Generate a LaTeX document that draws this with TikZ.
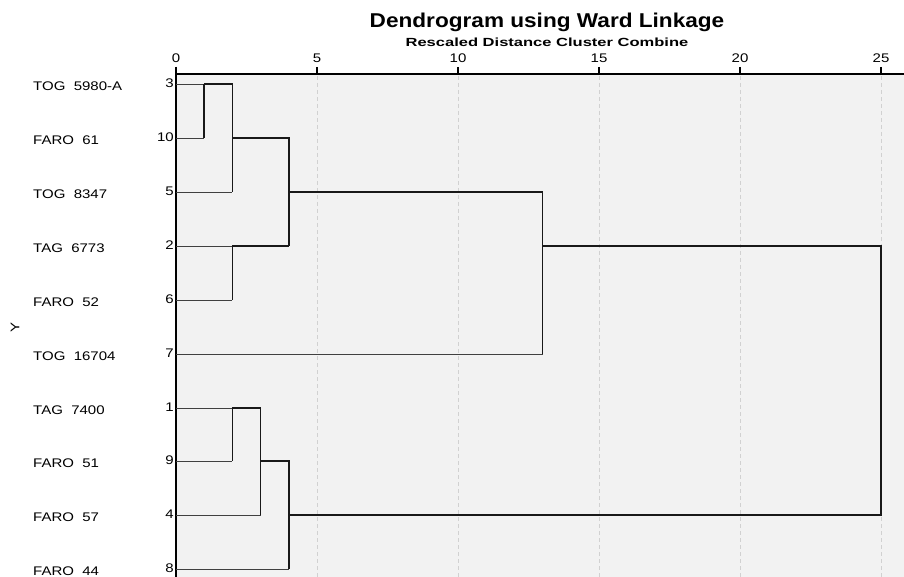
\documentclass[tikz,border=0pt]{standalone}
\usepackage{fontspec}
\usepackage{graphicx}
\setmainfont{Liberation Sans}
\newcommand\wdx[2]{\scalebox{#1}[1]{#2}}
\begin{document}
\begin{tikzpicture}[x=1pt,y=-1pt,
  thinl/.style={draw=black!75,line width=0.9pt},
  thickl/.style={draw=black!90,line width=1.5pt},
  axisl/.style={draw=black,line width=1.4pt},
  grid/.style={draw=black!18,line width=0.6pt,dash pattern=on 4pt off 3pt},
  leaf/.style={anchor=west,font=\fontsize{12.5}{14}\selectfont,inner sep=0pt},
  num/.style={anchor=east,font=\fontsize{12.5}{14}\selectfont,inner sep=0pt},
  tick/.style={anchor=south,font=\fontsize{12.5}{14}\selectfont,inner sep=0pt}]
\useasboundingbox (0,0) rectangle (904,577);
\fill[white] (0,0) rectangle (904,577);
\fill[black!5] (176,74) rectangle (904,577);
% grid
\foreach \d in {5,10,15,20,25}{
  \draw[grid] ({176+28.2*\d},76) -- ({176+28.2*\d},577);
}
% title
\node[font=\bfseries\fontsize{20}{22}\selectfont,inner sep=0pt] (title) at (547,22) {\wdx{1.13}{Dendrogram using Ward Linkage}};
\node[font=\bfseries\fontsize{11.8}{13}\selectfont,inner sep=0pt] (subtitle) at (547,42.5) {\wdx{1.4}{Rescaled Distance Cluster Combine}};
% axis
\draw[axisl] (176,74) -- (904,74);
\draw[axisl] (176,67) -- (176,577);
\foreach \d in {0,5,10,15,20,25}{
  \draw[axisl] ({176+28.2*\d},67) -- ({176+28.2*\d},74);
  \node[tick] (t\d) at ({176+28.2*\d},63) {\wdx{1.2}{\d}};
}
\node[rotate=90,font=\fontsize{12.5}{14}\selectfont,inner sep=0pt] (ylab) at (15,327) {\wdx{1.2}{Y}};
% leaves
\foreach \nm/\lab/\n/\y in {a/TOG\ \ 5980-A/3/84, b/FARO\ \ 61/10/138, c/TOG\ \ 8347/5/192, d/TAG\ \ 6773/2/246, e/FARO\ \ 52/6/300, f/TOG\ \ 16704/7/354, g/TAG\ \ 7400/1/408, h/FARO\ \ 51/9/461, i/FARO\ \ 57/4/515, j/FARO\ \ 44/8/569}{
  \node[leaf] (L\nm) at (33,\y+2) {\wdx{1.2}{\lab}};
  \node[num] (N\nm) at (174,\y-0.5) {\wdx{1.2}{\n}};
  \coordinate (\nm) at (176,\y);
}
% merge coordinates
\coordinate (m1) at (204.2,84);   % 3+10
\coordinate (m2) at (232.4,84);   % +5
\coordinate (m3) at (232.4,246);  % 2+6
\coordinate (m4) at (288.8,138);  % (3,10,5)+(2,6)
\coordinate (m5) at (542.6,192);  % +7
\coordinate (m6) at (232.4,408);  % 1+9
\coordinate (m7) at (260.6,408);  % +4
\coordinate (m8) at (288.8,461);  % +8
\coordinate (m9) at (881,246);    % root
% thin leaf lines
\draw[thinl] (a) -- (a -| m1);
\draw[thinl] (b) -- (b -| m1);
\draw[thinl] (c) -- (c -| m2);
\draw[thinl] (d) -- (d -| m3);
\draw[thinl] (e) -- (e -| m3);
\draw[thinl] (f) -- (f -| m5);
\draw[thinl] (g) -- (g -| m6);
\draw[thinl] (h) -- (h -| m6);
\draw[thinl] (i) -- (i -| m7);
\draw[thinl] (j) -- (j -| m8);
% merges
\draw[thickl] (m1) -- (b -| m1);
\draw[thickl] (m1) -- (m2) -- (c -| m2);
\draw[thickl] (b -| m2) -- (m4) -- (d -| m4);
\draw[thickl] (m3) -- (e -| m3);
\draw[thickl] (m3) -- (d -| m4);
\draw[thickl] (c -| m4) -- (m5) -- (f -| m5);
\draw[thickl] (d -| m5) -- (m9) -- (i -| m9) -- (i -| m8);
\draw[thickl] (m6) -- (h -| m6);
\draw[thickl] (m6) -- (m7) -- (i -| m7);
\draw[thickl] (h -| m7) -- (m8) -- (j -| m8);
\end{tikzpicture}
\end{document}
